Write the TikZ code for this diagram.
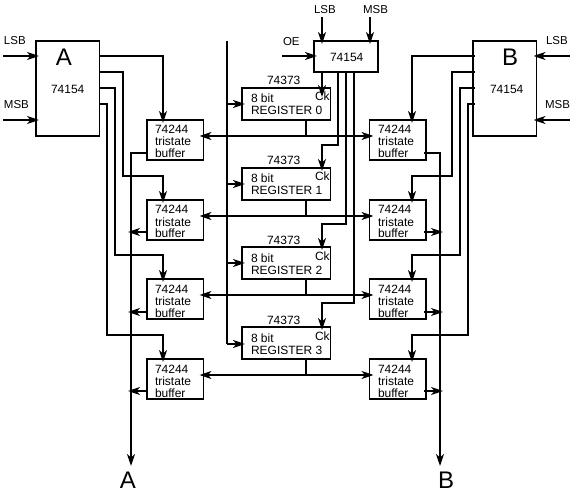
\documentclass[tikz,border=0pt]{standalone}
\usepackage{fontspec}
\setmainfont{Liberation Sans}
\usetikzlibrary{arrows.meta}
\tikzset{
  x=1pt,y=-1pt,
  box/.style={draw,line width=1.5pt,anchor=north west,inner sep=0pt,outer sep=0pt},
  bufbox/.style={box,minimum width=56.5pt,minimum height=40pt},
  regbox/.style={box,minimum width=88.5pt,minimum height=32pt},
  decbox/.style={box,minimum width=63.5pt,minimum height=95pt},
  txt/.style={anchor=base west,inner sep=0pt,outer sep=0pt,font=\fontsize{12}{12}\selectfont},
  small/.style={anchor=base west,inner sep=0pt,outer sep=0pt,font=\fontsize{11.5}{11.5}\selectfont},
  big/.style={anchor=base,inner sep=0pt,outer sep=0pt,font=\fontsize{24}{24}\selectfont},
  wire/.style={line width=1.6pt},
  arr/.style={wire,-{Stealth[length=12pt,width=8pt,inset=3.5pt]},shorten >=-3pt},
}
\begin{document}
\begin{tikzpicture}
\useasboundingbox (0,0) rectangle (573,497);
% decoders
\node[decbox] (A) at (36,41) {};
\node[decbox] (B) at (473,41) {};
\node[box,minimum width=64pt,minimum height=31pt] (T) at (314,41) {};
\node[big] (Atxt) at (64,66) {A};
\node[big] (Btxt) at (510,66) {B};
\node[txt] (Anum) at (51,94) {74154};
\node[txt] (Bnum) at (490,94) {74154};
\node[txt] (Tnum) at (330,62) {74154};
% buffers and registers
\foreach \n/\y/\ry/\bl in {0/120/88/104,1/200/168/184,2/279/247/263,3/359/327/343}{
  \node[bufbox] (L\n) at (147,\y) {};
  \node[bufbox] (R\n) at (369.5,\y) {};
  \node[regbox] (G\n) at (242,\ry) {};
  \node[txt] (Lt\n) at (155,\y+14) {74244};
  \node[txt] (Lu\n) at (155,\y+26) {tristate};
  \node[txt] (Lv\n) at (155,\y+38) {buffer};
  \node[txt] (Rt\n) at (378,\y+14) {74244};
  \node[txt] (Ru\n) at (378,\y+26) {tristate};
  \node[txt] (Rv\n) at (378,\y+38) {buffer};
  \node[txt] (Gt\n) at (267,\ry-3) {74373};
  \node[txt] (Gu\n) at (251,\ry+15) {8 bit};
  \node[txt] (Gv\n) at (251,\ry+27) {REGISTER \n};
  \node[txt] (Gc\n) at (315,\ry+13) {Ck};
}
% free labels
\node[small] (lsbA) at (4,45) {LSB};
\node[small] (msbA) at (4,109) {MSB};
\node[small] (lsbB) at (546,45) {LSB};
\node[small] (msbB) at (545,109) {MSB};
\node[small] (lsbT) at (314,14) {LSB};
\node[small] (msbT) at (363,14) {MSB};
\node[small] (oeT) at (283,46) {OE};
\node[big] (busAt) at (128,488) {A};
\node[big] (busBt) at (446,488) {B};
% free ends
\coordinate (a1) at (3,56);    \coordinate (a2) at (3,120);
\coordinate (b1) at (570,56);  \coordinate (b2) at (570,120);
\coordinate (t1) at (322,17);  \coordinate (t2) at (370,17);
\coordinate (t3) at (282,56);
\coordinate (busAend) at (131,466); \coordinate (busBend) at (440,466);
\coordinate (ctop) at (227,41);
% inputs
\draw[arr] (a1) -- (A.west |- a1);
\draw[arr] (a2) -- (A.west |- a2);
\draw[arr] (b1) -- (B.east |- b1);
\draw[arr] (b2) -- (B.east |- b2);
\draw[arr] (t1) -- (T.north -| t1);
\draw[arr] (t2) -- (T.north -| t2);
\draw[arr] (t3) -- (T.west |- t3);
% A decoder to left buffers
\foreach \n/\oy/\vx/\jy in {1/72/123/176,2/88/115/255,3/104/107/335}{
  \coordinate (ao\n) at (99.5,\oy);
  \coordinate (la\n) at (163,\jy);
  \draw[arr] (A.east |- ao\n) -| (\vx,\jy) -- (la\n) -- (L\n.north -| la\n);
}
\coordinate (ao0) at (99.5,56);
\coordinate (la0) at (163,56);
\draw[arr] (A.east |- ao0) -- (la0) -- (L0.north -| la0);
% B decoder to right buffers
\foreach \n/\oy/\vx/\jy in {1/72/452/176,2/88/460/255,3/104/468/335}{
  \coordinate (bo\n) at (475,\oy);
  \coordinate (ra\n) at (412,\jy);
  \draw[arr] (bo\n) -| (\vx,\jy) -- (ra\n) -- (R\n.north -| ra\n);
}
\coordinate (bo0) at (475,56);
\coordinate (ra0) at (412,56);
\draw[arr] (bo0) -- (ra0) -- (R0.north -| ra0);
% top decoder to Ck
\draw[arr,shorten >=-9pt] (T.south -| t1) -- (G0.north -| t1);
\foreach \n/\vx/\jy in {1/338/145,2/346/224,3/354/303}{
  \coordinate (tk\n) at (322,\jy);
  \draw[arr] (T.south -| \vx,0) -- (\vx,\jy) -- (tk\n) -- (G\n.north -| tk\n);
}
% clock rail
\draw[wire] (ctop) -- (227,344) coordinate (crail);
\foreach \n/\bl in {0/104,1/184,2/263,3/344}{
  \coordinate (cp\n) at (227,\bl);
  \draw[arr] (cp\n) -- (G\n.west |- cp\n);
}
% register data buses
\foreach \n/\by in {0/136,1/216,2/295,3/375}{
  \coordinate (rg\n) at (306,\by);
  \draw[wire] (G\n.south -| rg\n) -- (rg\n);
  \draw[arr,shorten >=-4pt] (rg\n) -- (L\n.east |- rg\n);
  \draw[arr,shorten >=-4pt] (rg\n) -- (R\n.west |- rg\n);
}
% output buses
\coordinate (ob0a) at (131,153);
\coordinate (ob0b) at (440,153);
\draw[arr,shorten >=0pt] (L0.west |- ob0a) -- (ob0a) -- (busAend);
\draw[arr,shorten >=0pt] ([xshift=-2pt]R0.east |- ob0b) -- (ob0b) -- (busBend);
\foreach \n/\yy in {1/232,2/312,3/391}{
  \coordinate (oa\n) at (131,\yy);
  \coordinate (ob\n) at (440,\yy);
  \draw[arr] (L\n.west |- oa\n) -- (oa\n);
  \draw[arr] ([xshift=-2pt]R\n.east |- ob\n) -- (ob\n);
}
\end{tikzpicture}
\end{document}
